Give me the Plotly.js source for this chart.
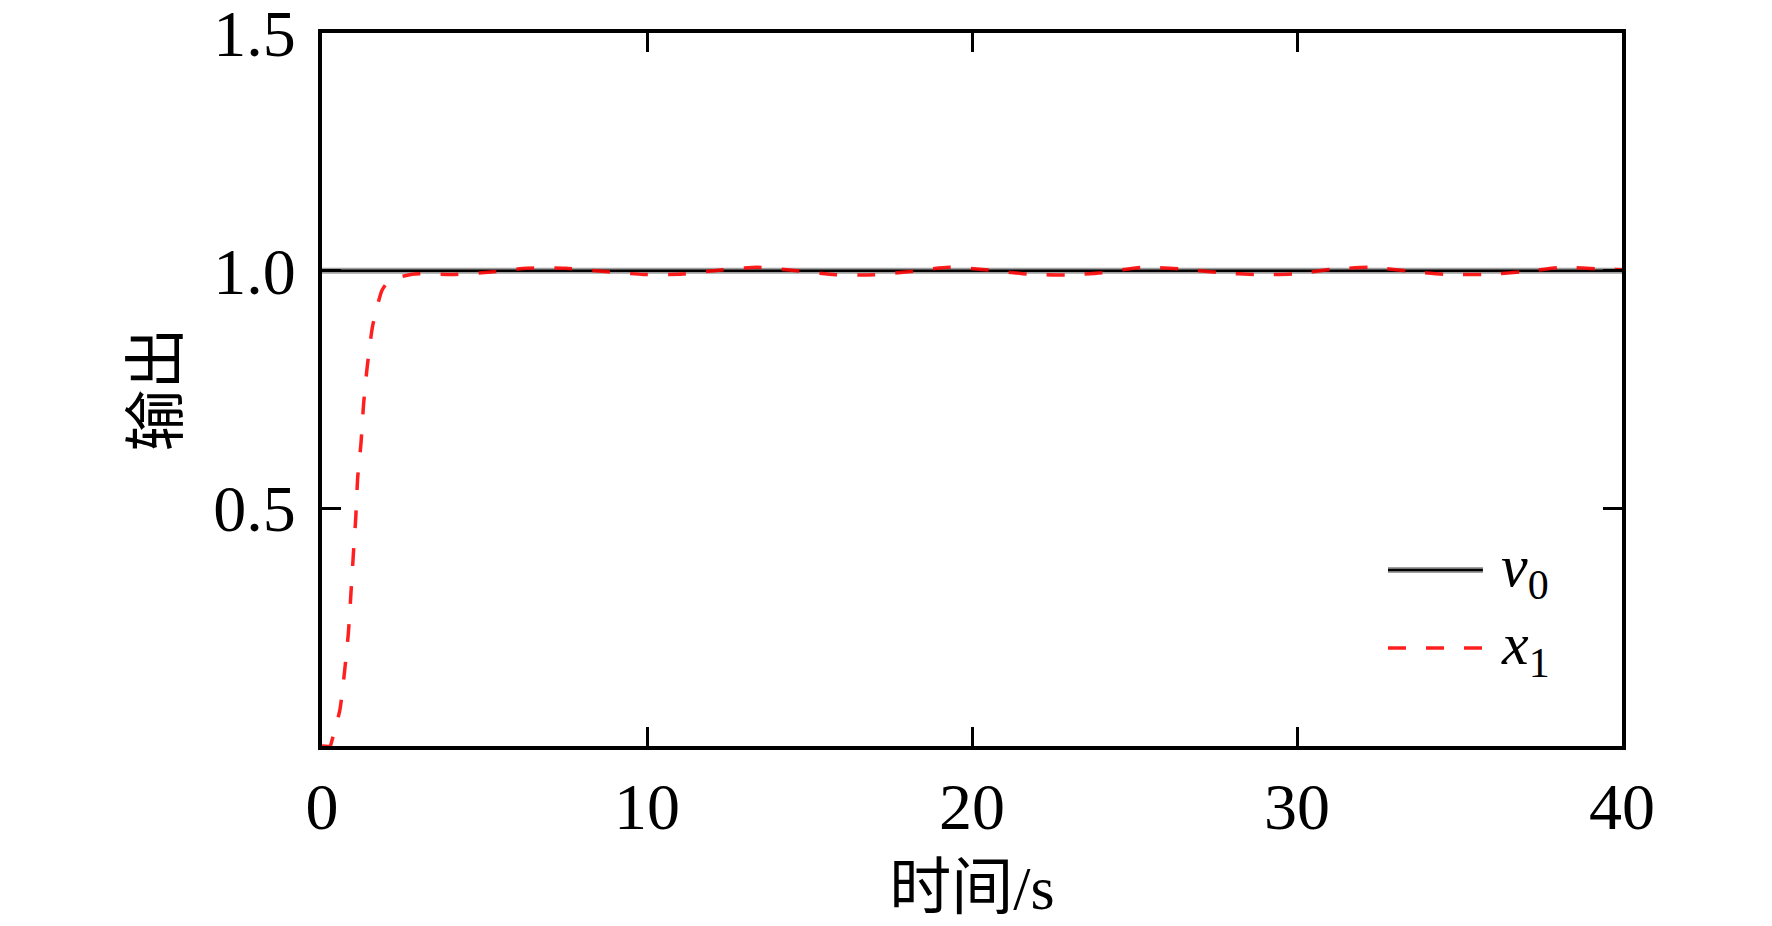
<!DOCTYPE html>
<html>
<head>
<meta charset="utf-8">
<script src="https://cdn.plot.ly/plotly-3.0.1.min.js"></script>
<style>
html,body{margin:0;padding:0;background:#fff;}
#chart{width:1772px;height:926px;}
</style>
</head>
<body>
<div id="chart"></div>
<script>
// time axis (s)
const tV0 = [0, 40];
const v0 = [1, 1];

const tX1 = [0, 0.25, 0.30, 0.55, 0.71, 0.81, 0.89, 0.96, 1.04, 1.10, 1.20, 1.28, 1.39, 1.55, 1.70, 1.84, 1.99, 2.3, 2.86,
  4.0, 5.2, 6.3, 7.5, 8.8, 9.9, 11.1, 12.2, 13.4, 14.6, 15.8, 17.0, 18.2, 19.3, 20.5, 21.7, 22.9, 24.0, 25.2, 26.4,
  27.6, 28.8, 29.9, 31.1, 32.3, 33.5, 34.6, 35.8, 37.0, 38.2, 39.4, 40];
const x1 = [0, 0.0, 0.01, 0.076, 0.167, 0.237, 0.321, 0.398, 0.482, 0.566, 0.637, 0.72, 0.797, 0.881, 0.925, 0.958, 0.973, 0.985, 0.993,
  0.992, 0.997, 1.005, 1.005, 0.9975, 0.992, 0.993, 1.001, 1.007, 1.0, 0.9916, 0.9916, 0.999, 1.007, 1.0014, 0.993, 0.9909, 0.9958, 1.007, 1.004,
  0.996, 0.9916, 0.993, 1.003, 1.007, 0.9986, 0.9923, 0.9923, 0.998, 1.007, 1.003, 1.002];

const xTicks = [0, 10, 20, 30, 40];
const yTicks = [0.5, 1.0, 1.5];
const yTickText = ['0.5', '1.0', '1.5'];

const xTitle = '时间/s';
const yTitle = '输出';
const legendV0 = '<i>v</i><sub>0</sub>';
const legendX1 = '<i>x</i><sub>1</sub>';

const FONT = "'Liberation Serif', 'Times New Roman', 'Noto Sans CJK SC', serif";
const RED = 'rgba(255,0,0,0.88)';

const traces = [
  {x: tV0, y: v0, mode: 'lines', line: {color: '#a0a0a0', width: 6}, showlegend: false, hoverinfo: 'skip'},
  {x: tV0, y: v0, mode: 'lines', name: 'v0', line: {color: '#000', width: 2.5}, showlegend: false},
  {x: tX1, y: x1, mode: 'lines', name: 'x1', line: {color: RED, width: 3.5, dash: '18px,20px', shape: 'spline', smoothing: 0.6}, showlegend: false}
];

const axisCommon = {
  showgrid: false, zeroline: false, showline: true, linecolor: '#000', linewidth: 4,
  mirror: 'ticks', ticks: 'inside', ticklen: 19, tickwidth: 3, tickcolor: '#000',
  ticklabeloverflow: 'allow',
  tickfont: {family: FONT, size: 66, color: '#000'}
};

const layout = {
  width: 1772, height: 926,
  margin: {l: 322, r: 150, t: 33, b: 180},
  paper_bgcolor: '#fff', plot_bgcolor: '#fff',
  showlegend: false,
  xaxis: Object.assign({}, axisCommon, {
    range: [0, 40], tickvals: xTicks, ticktext: xTicks.map(String), ticklabelstandoff: 0,
    title: {text: xTitle, font: {family: FONT, size: 62, color: '#000'}, standoff: 24}
  }),
  yaxis: Object.assign({}, axisCommon, {
    range: [0, 1.5], tickvals: yTicks, ticktext: yTickText, ticklabelstandoff: 9,
    title: {text: yTitle, font: {family: FONT, size: 62, color: '#000'}, standoff: 16}
  }),
  shapes: [
    {type: 'line', xref: 'paper', yref: 'paper', x0: 0.82, x1: 0.893, y0: 0.2468, y1: 0.2468, line: {color: '#a0a0a0', width: 6}},
    {type: 'line', xref: 'paper', yref: 'paper', x0: 0.82, x1: 0.893, y0: 0.2468, y1: 0.2468, line: {color: '#000', width: 2.5}},
    {type: 'line', xref: 'paper', yref: 'paper', x0: 0.82, x1: 0.893, y0: 0.1374, y1: 0.1374, line: {color: RED, width: 3.5, dash: '18px,20px'}}
  ],
  annotations: [
    {xref: 'paper', yref: 'paper', x: 0.905, y: 0.2468, xanchor: 'left', yanchor: 'middle', showarrow: false, text: legendV0, font: {family: FONT, size: 60, color: '#000'}},
    {xref: 'paper', yref: 'paper', x: 0.905, y: 0.1374, xanchor: 'left', yanchor: 'middle', showarrow: false, text: legendX1, font: {family: FONT, size: 60, color: '#000'}}
  ]
};

Plotly.newPlot('chart', traces, layout, {staticPlot: true, displayModeBar: false});
</script>
</body>
</html>
